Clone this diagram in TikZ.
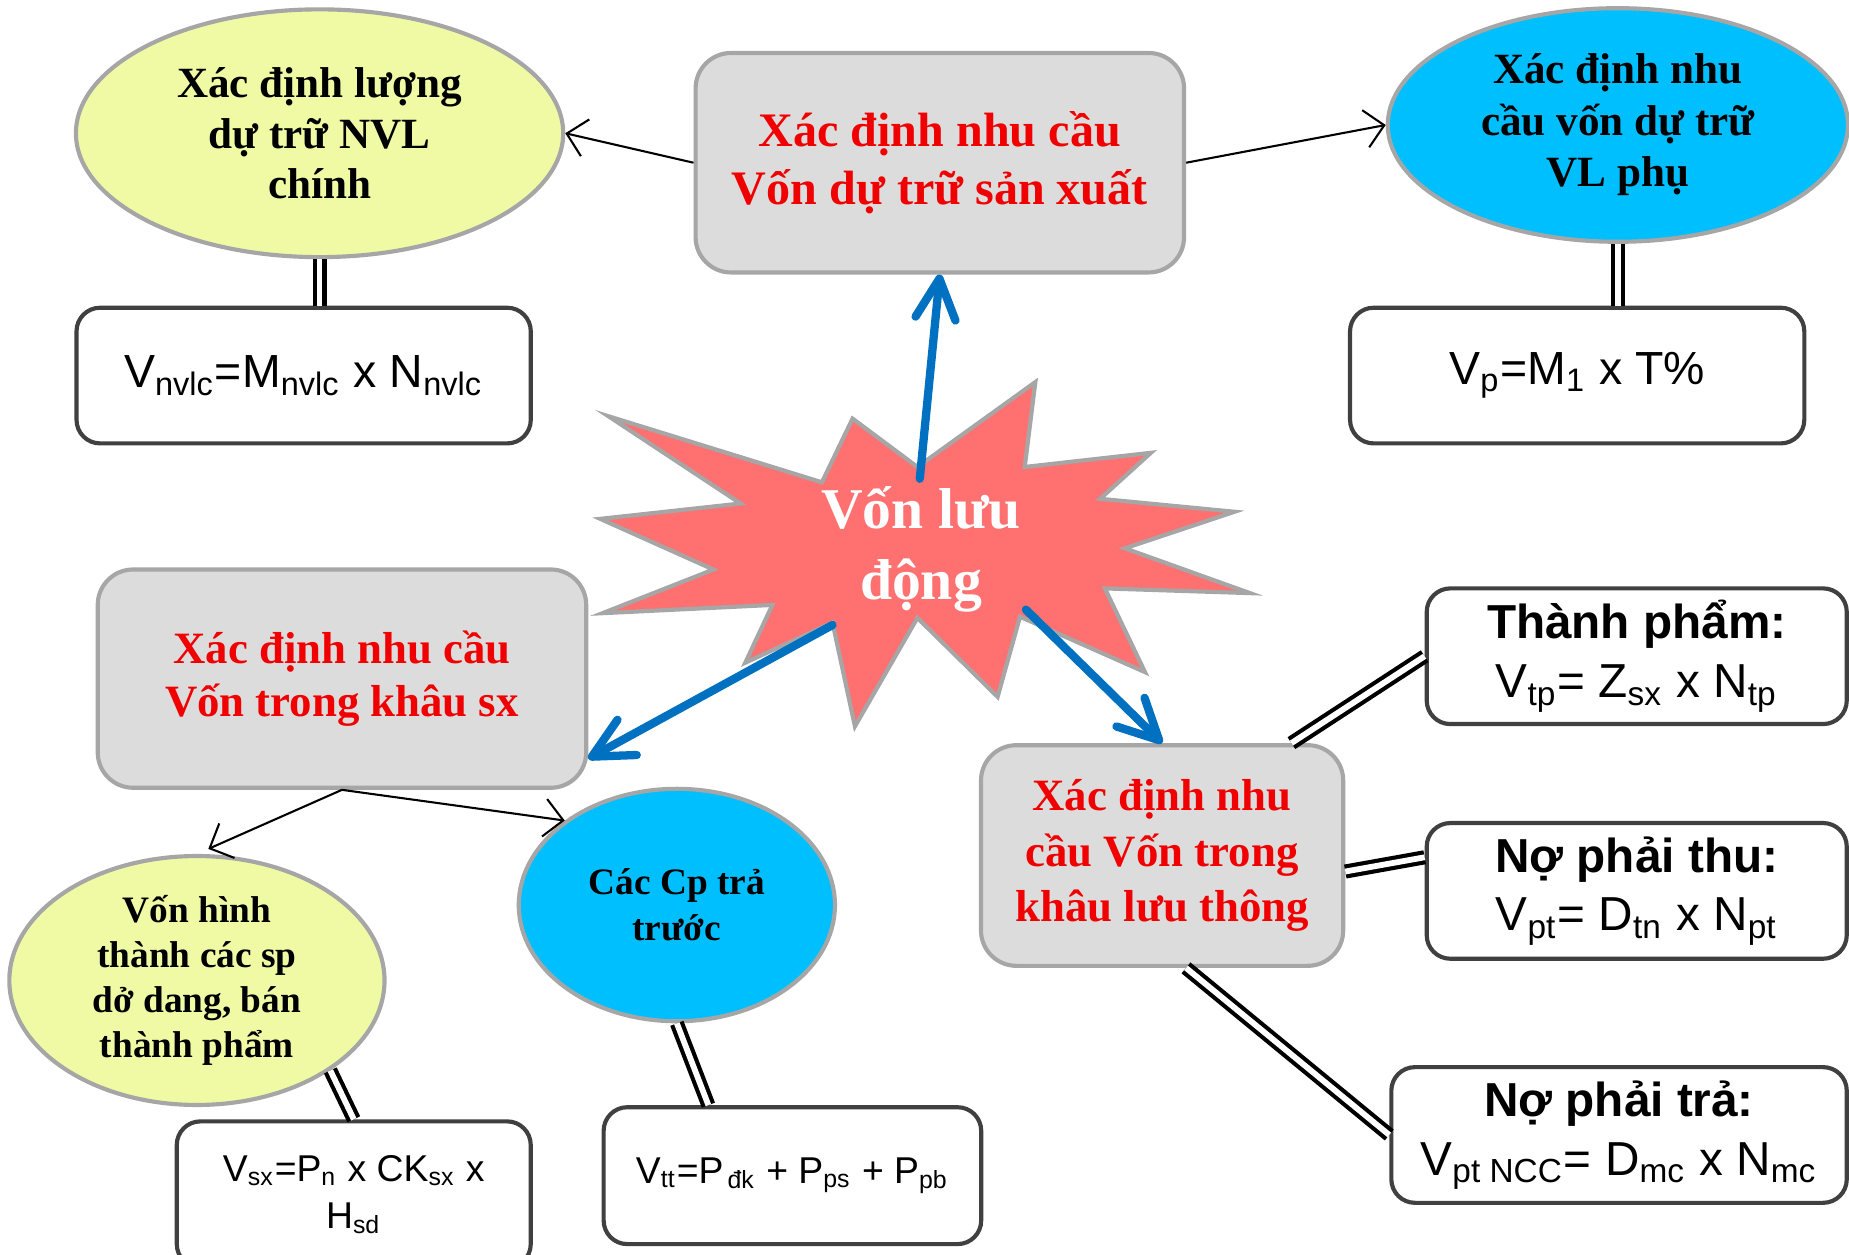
\documentclass[tikz,border=0pt]{standalone}
\usepackage{fontspec}
\setmainfont{Liberation Serif}
\setsansfont{Liberation Sans}
\usetikzlibrary{arrows.meta,shapes.geometric,calc}

\definecolor{vang}{RGB}{240,250,165}
\definecolor{xanh}{RGB}{0,191,255}
\definecolor{xam}{RGB}{220,220,220}
\definecolor{vien}{RGB}{166,166,166}
\definecolor{hong}{RGB}{255,113,113}
\definecolor{muiten}{RGB}{0,112,192}
\definecolor{chudo}{RGB}{240,0,0}

\newcommand{\ct}[1]{\textsubscript{#1}}

\begin{document}
\begin{tikzpicture}[x=0.01cm,y=-0.01cm,
    hop/.style={draw=vien,fill=xam,line width=1pt,rounded corners=0.3cm,align=center,text=chudo,inner sep=0pt},
    elip/.style={ellipse,draw=vien,line width=1pt,align=center,inner sep=0pt},
    congthuc/.style={draw=black!75,fill=white,line width=1pt,rounded corners=0.2cm,align=center,inner sep=0pt},
    noi/.style={draw,line width=1pt,double=white,double distance=1.4pt},
    nhanh/.style={draw,line width=0.5pt,-{Straight Barb[length=1.6mm,width=3.2mm]}},
    chinh/.style={draw=muiten,line width=2pt,line cap=round,-{Straight Barb[length=3.4mm,width=3.4mm,round]}}]
  \useasboundingbox (0,0) rectangle (1568,1064);

  \node[elip,fill=vang,minimum width=4.13cm,minimum height=2.10cm,
    font=\bfseries\fontsize{10.4}{12.2}\selectfont] (luong) at (271,113) {Xác định lượng\\dự trữ NVL\\chính};
  \node[hop,minimum width=4.14cm,minimum height=1.86cm,
    font=\bfseries\fontsize{11.6}{14.2}\selectfont] (dutru) at (797,138) {Xác định nhu cầu\\Vốn dự trữ sản xuất};
  \node[elip,fill=xanh,minimum width=3.9cm,minimum height=1.98cm,
    font=\bfseries\fontsize{10.4}{12.4}\selectfont] (phu) at (1372,106) {Xác định nhu\\cầu vốn dự trữ\\VL phụ};

  \node[congthuc,minimum width=3.85cm,minimum height=1.15cm,
    font=\sffamily\fontsize{11.2}{13}\selectfont] (ctnvlc) at (257.5,318.5) {V\ct{nvlc}=M\ct{nvlc} x N\ct{nvlc}};
  \node[congthuc,minimum width=3.85cm,minimum height=1.15cm,
    font=\sffamily\fontsize{11.2}{13}\selectfont] (ctp) at (1337.5,318.5) {V\ct{p}=M\ct{1} x T\%};

  \draw[draw=vien,fill=hong,line width=1pt] (516,353) -- (697,409) -- (723,355) -- (778,396) -- (878,324)
    -- (869,396) -- (976,384) -- (933,423) -- (1047,434) -- (954,465) -- (1060,503) -- (937,499)
    -- (971,570) -- (865,523) -- (846,591) -- (778,524) -- (725,616) -- (706,528) -- (632,562)
    -- (655,513) -- (511,520) -- (605,483) -- (509,440) -- (628,427) -- cycle;
  \node[text=white,align=center,font=\bfseries\fontsize{13.9}{17}\selectfont] (vld) at (781,466) {Vốn lưu\\động};

  \node[hop,minimum width=4.14cm,minimum height=1.85cm,
    font=\bfseries\fontsize{10.8}{13}\selectfont] (sx) at (290,575.5) {Xác định nhu cầu\\Vốn trong khâu sx};
  \node[hop,minimum width=3.07cm,minimum height=1.87cm,
    font=\bfseries\fontsize{10.8}{13.4}\selectfont] (lt) at (985.5,725.5) {Xác định nhu\\cầu Vốn trong\\khâu lưu thông};

  \node[elip,fill=vang,minimum width=3.18cm,minimum height=2.11cm,
    font=\bfseries\fontsize{9}{10.8}\selectfont] (dodang) at (167,831.5) {Vốn hình\\thành các sp\\dở dang, bán\\thành phẩm};
  \node[elip,fill=xanh,minimum width=2.68cm,minimum height=1.97cm,
    font=\bfseries\fontsize{9}{11}\selectfont] (tratruoc) at (574,767.5) {Các Cp trả\\trước};

  \node[congthuc,minimum width=3.0cm,minimum height=1.24cm,
    font=\sffamily\fontsize{9}{11.4}\selectfont] (ctsx) at (300,1013) {V\ct{sx}=P\ct{n} x CK\ct{sx} x\\H\ct{sd}};
  \node[congthuc,minimum width=3.2cm,minimum height=1.16cm,
    font=\sffamily\fontsize{9}{11.4}\selectfont] (cttt) at (672,997) {V\ct{tt}=P\ct{\,đk} + P\ct{ps} + P\ct{pb}};

  \node[congthuc,minimum width=3.56cm,minimum height=1.15cm,
    font=\sffamily\fontsize{11.5}{14.2}\selectfont] (tp) at (1388,556.5) {\textbf{Thành phẩm:}\\V\ct{tp}= Z\ct{sx} x N\ct{tp}};
  \node[congthuc,minimum width=3.56cm,minimum height=1.15cm,
    font=\sffamily\fontsize{11.5}{14.2}\selectfont] (phaithu) at (1388,755.5) {\textbf{Nợ phải thu:}\\V\ct{pt}= D\ct{tn} x N\ct{pt}};
  \node[congthuc,minimum width=3.86cm,minimum height=1.15cm,
    font=\sffamily\fontsize{11.5}{14.2}\selectfont] (phaitra) at (1373,962.5) {\textbf{Nợ phải trả:}\\V\ct{pt NCC}= D\ct{mc} x N\ct{mc}};

  \coordinate (g1) at (780,406);
  \coordinate (g2) at (706,530);
  \coordinate (g3) at (870,517);
  \draw[chinh] (g1) -- (dutru.south);
  \draw[chinh] (g2) -- (sx.-18.7);
  \draw[chinh] (g3) -- (lt.north);

  \draw[nhanh] (dutru.west) -- (luong.east);
  \draw[nhanh] (dutru.east) -- (phu.west);
  \draw[nhanh,shorten >=3pt] (sx.south) -- (dodang.north);
  \draw[nhanh] (sx.south) -- (tratruoc.143);

  \draw[noi] (luong.south) -- (luong.south |- ctnvlc.north);
  \draw[noi] (phu.south) -- (phu.south |- ctp.north);
  \draw[noi] (dodang.-34) -- (ctsx.north);
  \draw[noi] (tratruoc.south) -- (cttt.140);
  \draw[noi] (lt.41.8) -- (tp.west);
  \draw[noi] (lt.-5) -- (phaithu.171);
  \draw[noi] (lt.-78) -- (phaitra.west);
\end{tikzpicture}
\end{document}
